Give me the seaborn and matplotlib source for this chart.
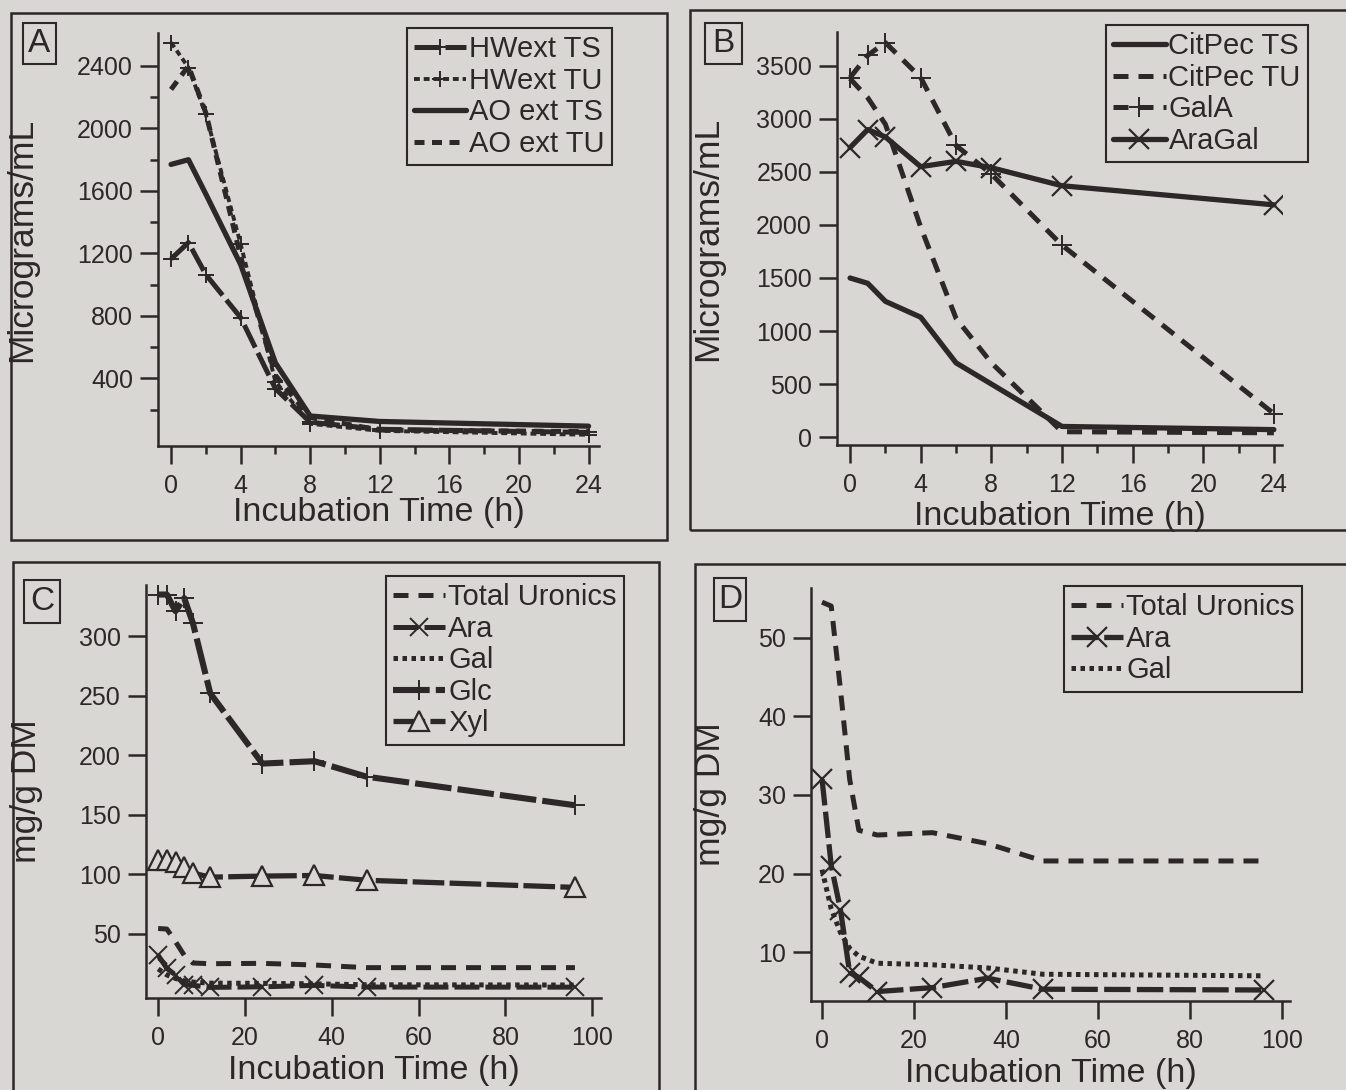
import matplotlib
matplotlib.use("Agg")
import matplotlib.pyplot as plt
from matplotlib.patches import Rectangle
import seaborn as sns

# ---------------- data ----------------
# Panel A: extract concentration (micrograms/mL) during incubation
time_a = [0, 1, 2, 4, 6, 8, 12, 24]
hwext_ts = [1165, 1270, 1065, 790, 335, 120, 75, 55]
hwext_tu = [2550, 2390, 2090, 1260, 380, 110, 65, 40]
ao_ext_ts = [1770, 1800, 1580, 1130, 500, 160, 125, 95]
ao_ext_tu = [2250, 2400, 2100, 1180, 420, 150, 70, 60]

# Panel B: citrus pectin and arabinogalactan
time_b = [0, 1, 2, 4, 6, 8, 12, 24]
citpec_ts = [1500, 1450, 1280, 1130, 700, 500, 100, 70]
citpec_tu = [3380, 3200, 2950, 1980, 1120, 700, 50, 40]
gala = [3390, 3600, 3720, 3390, 2750, 2480, 1810, 220]
aragal = [2730, 2900, 2830, 2550, 2600, 2540, 2370, 2190]

# Panels C and D: residual sugars (mg/g DM)
time_cd = [0, 2, 4, 6, 8, 12, 24, 36, 48, 96]
total_uronics = [54.5, 54.0, 43.4, 32.0, 25.5, 24.9, 25.2, 23.8, 21.6, 21.6]
ara = [32.0, 21.0, 15.4, 7.4, 6.8, 5.0, 5.5, 6.7, 5.3, 5.2]
gal = [20.5, 15.5, 12.5, 10.5, 9.5, 8.6, 8.4, 8.0, 7.2, 7.0]
glc = [335, 335, 321, 332, 311, 252, 193, 195, 182, 158]
xyl = [112, 112, 110, 106, 101, 97.6, 98.5, 99, 95, 89]

x_ticks_24 = [0, 4, 8, 12, 16, 20, 24]
x_ticks_100 = [0, 20, 40, 60, 80, 100]

# ---------------- style ----------------
INK = "#2d2828"
BG = "#d9d7d3"
sns.set_style("ticks")
plt.rcParams["font.family"] = ["Liberation Sans", "DejaVu Sans"]
plt.rcParams["axes.facecolor"] = "none"
plt.rcParams["figure.facecolor"] = BG

W, H = 1346, 1090
fig = plt.figure(figsize=(W / 100, H / 100), dpi=100, facecolor=BG)


def frac_box(left, top, right, bottom):
    return [left / W, 1 - bottom / H, (right - left) / W, (bottom - top) / H]


def frame(left, top, right, bottom, lw=1.8):
    x, y, w, h = frac_box(left, top, right, bottom)
    fig.add_artist(Rectangle((x, y), w, h, transform=fig.transFigure, fill=False,
                             edgecolor=INK, linewidth=lw, clip_on=False))


def panel_letter(letter, left, top, right, bottom):
    frame(left, top, right, bottom, lw=1.5)
    x, y, w, h = frac_box(left, top, right, bottom)
    fig.text(x + w / 2, y + h / 2, letter, ha="center", va="center",
             fontsize=24, color=INK)


def series(ax, x, y, label, lw=3.6, ls="-", marker=None, ms=12, mew=1.4, mfc=None):
    kw = dict(color=INK, linewidth=lw, linestyle=ls, label=label,
              errorbar=None, estimator=None, sort=False)
    if marker is not None:
        kw.update(marker=marker, markersize=ms, markeredgewidth=mew,
                  markeredgecolor=INK,
                  markerfacecolor=INK if mfc is None else mfc)
    sns.lineplot(x=x, y=y, ax=ax, **kw)


def style_axes(ax, xlim, ylim, xticks, yticks, ylabel, ylab_x, xlab_y,
               xminor=None, yminor=None):
    ax.set_facecolor("none")
    for s in ("top", "right"):
        ax.spines[s].set_visible(False)
    for s in ("left", "bottom"):
        ax.spines[s].set_linewidth(1.8)
        ax.spines[s].set_color(INK)
    ax.set_xlim(xlim)
    ax.set_ylim(ylim)
    ax.set_xticks(xticks)
    ax.set_yticks(yticks)
    ax.set_xticks(xminor if xminor else [], minor=True)
    ax.set_yticks(yminor if yminor else [], minor=True)
    ax.tick_params(which="major", direction="out", length=13, width=1.8,
                   color=INK, labelcolor=INK, labelsize=18)
    ax.tick_params(axis="x", which="major", pad=7)
    ax.tick_params(axis="y", which="major", pad=5)
    ax.tick_params(which="minor", direction="out", length=6, width=1.8, color=INK)
    ax.set_xlabel("Incubation Time (h)", fontsize=24.5, color=INK)
    ax.set_ylabel(ylabel, fontsize=25.5, color=INK)
    ax.xaxis.set_label_coords(0.5, xlab_y)
    ax.yaxis.set_label_coords(ylab_x, 0.5)
    ax.xaxis.label.set_va("top")


def legend(ax, anchor):
    leg = ax.legend(loc="upper right", bbox_to_anchor=anchor,
                    bbox_transform=fig.transFigure, fontsize=21,
                    frameon=True, fancybox=False, framealpha=1,
                    facecolor=BG, edgecolor=INK, handlelength=1.8,
                    handletextpad=0.1, labelspacing=0.12, borderpad=0.25,
                    borderaxespad=0, numpoints=1, labelcolor=INK)
    leg.get_frame().set_linewidth(1.5)
    return leg


# ---------------- panel frames ----------------
frame(11, 13, 667, 540)
frame(690, 10, 1352, 530)
frame(13, 562, 659, 1096)
frame(695, 564, 1352, 1096)

# ---------------- panel A ----------------
ax_a = fig.add_axes(frac_box(158, 33, 599, 446))
series(ax_a, time_a, hwext_ts, "HWext TS", lw=3.6, ls=(0, (5, 1.2)), marker="+")
series(ax_a, time_a, hwext_tu, "HWext TU", lw=2.8, ls=(0, (1.5, 1.0)), marker="+")
series(ax_a, time_a, ao_ext_ts, "AO ext TS", lw=3.8, ls="-")
series(ax_a, time_a, ao_ext_tu, "AO ext TU", lw=3.6, ls=(0, (2.0, 1.5)))
style_axes(ax_a, (-0.75, 24.6), (-32, 2611), x_ticks_24,
           [400, 800, 1200, 1600, 2000, 2400], "Micrograms/mL", -0.272, -0.123,
           xminor=[2, 6, 10, 14, 18, 22],
           yminor=[200, 600, 1000, 1400, 1800, 2200])
legend(ax_a, (612 / W, 1 - 28 / H))
panel_letter("A", 23, 23, 56, 64)

# ---------------- panel B ----------------
ax_b = fig.add_axes(frac_box(837, 32, 1282, 445))
series(ax_b, time_b, citpec_ts, "CitPec TS", lw=3.8, ls="-")
series(ax_b, time_b, citpec_tu, "CitPec TU", lw=3.6, ls=(0, (3, 2)))
series(ax_b, time_b, gala, "GalA", lw=3.6, ls=(0, (3, 2)), marker="+", ms=14)
series(ax_b, time_b, aragal, "AraGal", lw=3.8, ls="-", marker="x", ms=14, mew=1.6)
style_axes(ax_b, (-0.74, 24.46), (-75, 3820), x_ticks_24,
           [0, 500, 1000, 1500, 2000, 2500, 3000, 3500], "Micrograms/mL",
           -0.253, -0.135, xminor=[2, 6, 10, 14, 18, 22])
legend(ax_b, (1308 / W, 1 - 25 / H))
panel_letter("B", 705, 23, 742, 64)

# ---------------- panel C ----------------
ax_c = fig.add_axes(frac_box(146, 585, 601, 998))
series(ax_c, time_cd, total_uronics, "Total Uronics", lw=3.6, ls=(0, (3, 2)))
series(ax_c, time_cd, ara, "Ara", lw=3.6, ls=(0, (5, 1.2)), marker="x", ms=13)
series(ax_c, time_cd, gal, "Gal", lw=3.6, ls=(0, (0.9, 0.9)))
series(ax_c, time_cd, glc, "Glc", lw=4.4, ls=(0, (6, 1)), marker="+", ms=14)
series(ax_c, time_cd, xyl, "Xyl", lw=3.8, ls=(0, (6, 1)), marker="^", ms=14,
       mew=1.6, mfc=BG)
style_axes(ax_c, (-2.8, 102), (-3.9, 343), x_ticks_100,
           [50, 100, 150, 200, 250, 300], "mg/g DM", -0.226, -0.138)
legend(ax_c, (624 / W, 1 - 576 / H))
panel_letter("C", 24, 580, 60, 623)

# ---------------- panel D ----------------
ax_d = fig.add_axes(frac_box(811, 588, 1290, 1001))
series(ax_d, time_cd, total_uronics, "Total Uronics", lw=3.6, ls=(0, (3, 2)))
series(ax_d, time_cd, ara, "Ara", lw=3.8, ls=(0, (5, 1.2)), marker="x", ms=14, mew=1.6)
series(ax_d, time_cd, gal, "Gal", lw=3.6, ls=(0, (0.9, 0.9)))
style_axes(ax_d, (-2.4, 101.7), (3.8, 56.3), x_ticks_100,
           [10, 20, 30, 40, 50], "mg/g DM", -0.176, -0.138)
legend(ax_d, (1302 / W, 1 - 586 / H))
panel_letter("D", 714, 578, 746, 621)

fig.savefig("out.png", dpi=100, facecolor=BG)
